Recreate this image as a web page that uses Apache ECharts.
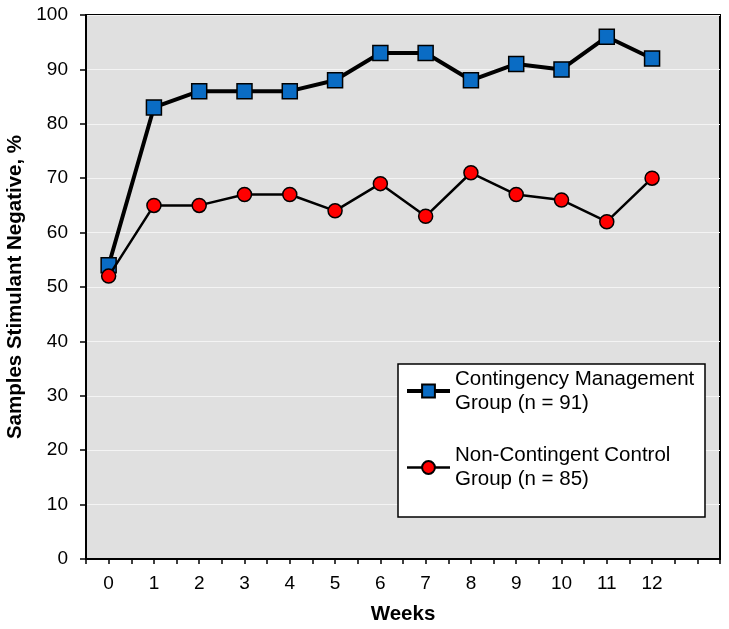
<!DOCTYPE html>
<html>
<head>
<meta charset="utf-8">
<script src="https://cdn.jsdelivr.net/npm/echarts@6/dist/echarts.min.js"></script>
<style>html,body{margin:0;padding:0;background:#fff}#c{width:729px;height:629px}</style>
</head>
<body>
<div id="c"></div>
<script>
const weeks = [0,1,2,3,4,5,6,7,8,9,10,11,12];
const contingencyValues = [54,83,86,86,86,88,93,93,88,91,90,96,92];
const controlValues = [52,65,65,67,67,64,69,63,71,67,66,62,70];
const seriesNames = ['Contingency Management\nGroup (n = 91)', 'Non-Contingent Control\nGroup (n = 85)'];
const xAxisTitle = 'Weeks';
const yAxisTitle = 'Samples Stimulant Negative, %';

const font = '"Liberation Sans", Arial, sans-serif';
const chart = echarts.init(document.getElementById('c'), null, {renderer: 'canvas'});
chart.setOption({
  animation: false,
  backgroundColor: '#ffffff',
  grid: {left: 86, right: 9, top: 15, bottom: 70, outerBoundsMode: 'none', containLabel: false,
         show: true, backgroundColor: '#E0E0E0', borderColor: '#000', borderWidth: 2},
  graphic: [{
    type: 'rect', z: 3, shape: {x: 398, y: 364, width: 307, height: 153},
    style: {fill: '#ffffff', stroke: '#000', lineWidth: 1.5}
  }],
  legend: {
    orient: 'vertical', left: 405, top: 355, padding: 0, itemGap: 4.5,
    itemWidth: 43, itemHeight: 16, z: 5,
    textStyle: {fontFamily: font, fontSize: 20.5, lineHeight: 24, color: '#000', padding: [24, 0, 0, 0]},
    data: [
      {name: seriesNames[0], lineStyle: {width: 4, color: '#000'}},
      {name: seriesNames[1], lineStyle: {width: 2.5, color: '#000'}}
    ]
  },
  xAxis: {
    type: 'value', min: -0.5, max: 13.5, interval: 0.5,
    name: xAxisTitle, nameLocation: 'middle', nameGap: 45,
    nameTextStyle: {fontFamily: font, fontSize: 20.5, fontWeight: 'bold', color: '#000'},
    axisLine: {show: true, onZero: false, lineStyle: {color: '#000', width: 2}},
    axisTick: {show: true, inside: false, length: 5, lineStyle: {color: '#000', width: 1.5}},
    axisLabel: {
      fontFamily: font, fontSize: 19, color: '#000', margin: 15,
      formatter: function (v) { return (Number.isInteger(v) && v >= 0 && v <= 12) ? String(v) : ''; }
    },
    splitLine: {show: false}
  },
  yAxis: {
    type: 'value', min: 0, max: 100, interval: 10,
    name: yAxisTitle, nameLocation: 'middle', nameGap: 59, nameRotate: 90,
    nameTextStyle: {fontFamily: font, fontSize: 20.5, fontWeight: 'bold', color: '#000'},
    axisLine: {show: true, onZero: false, lineStyle: {color: '#000', width: 2}},
    axisTick: {show: true, inside: false, length: 6, lineStyle: {color: '#000', width: 1.5}},
    axisLabel: {fontFamily: font, fontSize: 19, color: '#000', margin: 18},
    splitLine: {show: true, lineStyle: {color: '#F4F4F4', width: 1}}
  },
  series: [
    {
      name: seriesNames[0], type: 'line', z: 2,
      data: weeks.map((w, i) => [w, contingencyValues[i]]),
      symbol: 'rect', symbolSize: 15,
      lineStyle: {color: '#000', width: 4},
      itemStyle: {color: '#0A6CC4', borderColor: '#000', borderWidth: 1.5}
    },
    {
      name: seriesNames[1], type: 'line', z: 3,
      data: weeks.map((w, i) => [w, controlValues[i]]),
      symbol: 'circle', symbolSize: 14,
      lineStyle: {color: '#000', width: 2.5},
      itemStyle: {color: '#FF0000', borderColor: '#000', borderWidth: 1.5}
    }
  ]
});
</script>
</body>
</html>
